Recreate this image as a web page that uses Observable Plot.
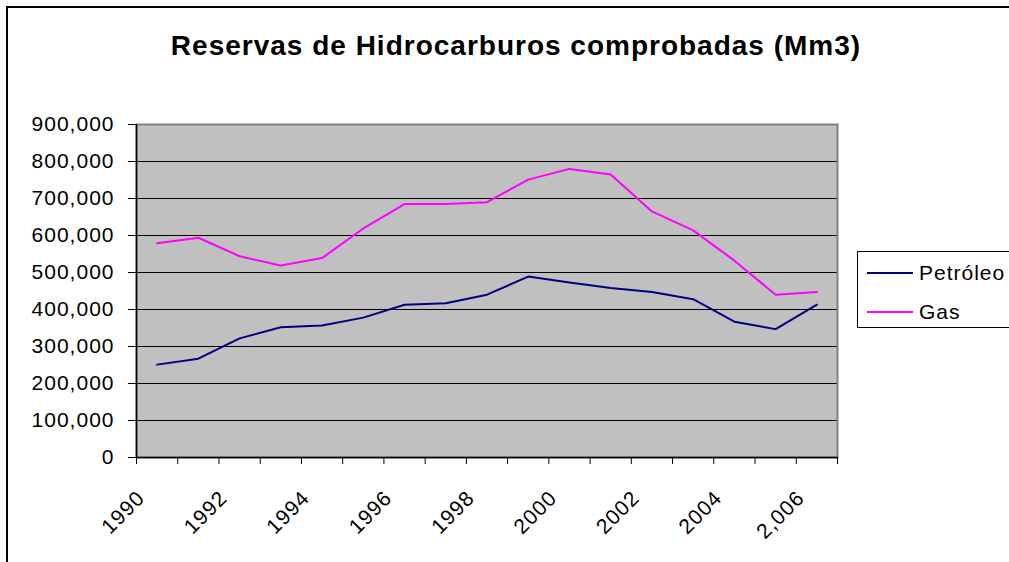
<!DOCTYPE html>
<html>
<head>
<meta charset="utf-8">
<script src="https://cdn.jsdelivr.net/npm/d3@7"></script>
<script src="https://cdn.jsdelivr.net/npm/@observablehq/plot@0.6"></script>
<style>
  html, body { margin: 0; padding: 0; overflow: hidden; background: #fff; }
  #wrap { position: relative; width: 1009px; height: 562px; overflow: hidden; font-family: "Liberation Sans", Arial, sans-serif; }
  #outer { position: absolute; left: 6px; top: 6px; width: 1100px; height: 700px; border: 2px solid #000; box-sizing: border-box; }
  #chart { position: absolute; left: 0; top: 0; }
  #chart svg text { letter-spacing: 1px; }
  #title { position: absolute; left: 16px; top: 32px; width: 1000px; text-align: center; font-weight: bold; font-size: 28px; line-height: 28px; letter-spacing: 1px; color: #000; }
  #legend { position: absolute; left: 857px; top: 251px; width: 200px; height: 77px; border: 1px solid #000; box-sizing: border-box; background: #fff; }
  .li { position: absolute; left: 0; height: 24px; font-size: 21px; line-height: 24px; letter-spacing: 1px; }
  .sw { position: absolute; left: 9px; width: 46px; height: 2px; top: 11px; }
  .lt { position: absolute; left: 61px; top: 0; white-space: nowrap; }
</style>
</head>
<body>
<div id="wrap">
  <div id="outer"></div>
  <div id="chart"></div>
  <div id="title">Reservas de Hidrocarburos comprobadas (Mm3)</div>
  <div id="legend"></div>
</div>
<script>
const years = [1990, 1991, 1992, 1993, 1994, 1995, 1996, 1997, 1998, 1999, 2000, 2001, 2002, 2003, 2004, 2005, 2006];
const petroleo = [251000, 267000, 322000, 352000, 357000, 378000, 413000, 417000, 440000, 489000, 473000, 458000, 447000, 428000, 367000, 347000, 413000];
const gas = [579000, 594000, 544000, 519000, 539000, 619000, 685000, 685000, 690000, 751000, 780000, 765000, 665000, 614000, 532000, 440000, 447000];
const seriesNames = ["Petróleo", "Gas"];
const seriesColors = ["#000080", "#FF00FF"];
const xTickYears = [1990, 1992, 1994, 1996, 1998, 2000, 2002, 2004, 2006];
const xTickLabels = ["1990", "1992", "1994", "1996", "1998", "2000", "2002", "2004", "2,006"];
const yTicks = [0, 100000, 200000, 300000, 400000, 500000, 600000, 700000, 800000, 900000];

const boundaries = years.map(y => y - 0.5).concat([years[years.length - 1] + 0.5]);
const fmt = d3.format(",");

const chart = Plot.plot({
  width: 1009,
  height: 562,
  marginLeft: 136,
  marginRight: 172,
  marginTop: 124,
  marginBottom: 105,
  style: { background: "transparent", fontFamily: "'Liberation Sans', Arial, sans-serif", fontSize: "21px", overflow: "visible" },
  x: { domain: [boundaries[0], boundaries[boundaries.length - 1]] },
  y: { domain: [0, 900000] },
  marks: [
    Plot.frame({ fill: "#C0C0C0" }),
    Plot.gridY(yTicks, { stroke: "#000", strokeOpacity: 1, strokeWidth: 1 }),
    Plot.frame({ stroke: "#808080", strokeWidth: 2 }),
    Plot.ruleX([boundaries[0]], { stroke: "#000", strokeWidth: 1.5 }),
    Plot.ruleY([0], { stroke: "#000", strokeWidth: 1.5 }),
    Plot.axisY(yTicks, { tickSize: 8, tickPadding: 14, tickFormat: d => fmt(d), fontSize: 21, label: null, stroke: "#000" }),
    Plot.axisX(boundaries, { tickSize: 7, tickFormat: () => "", label: null, stroke: "#000" }),
    Plot.text(xTickLabels, {
      x: (d, i) => xTickYears[i],
      y: () => 0,
      text: d => d,
      rotate: -45,
      textAnchor: "end",
      dx: -16,
      dy: 37,
      fontSize: 21,
      fill: "#000"
    }),
    Plot.line(years, { x: d => d, y: (d, i) => petroleo[i], stroke: seriesColors[0], strokeWidth: 2 }),
    Plot.line(years, { x: d => d, y: (d, i) => gas[i], stroke: seriesColors[1], strokeWidth: 2 })
  ]
});
document.getElementById("chart").appendChild(chart);

const legend = document.getElementById("legend");
const tops = [9, 48];
seriesNames.forEach((name, i) => {
  const item = document.createElement("div");
  item.className = "li";
  item.style.top = tops[i] + "px";
  item.innerHTML = `<div class="sw" style="background:${seriesColors[i]}"></div><div class="lt">${name}</div>`;
  legend.appendChild(item);
});
</script>
</body>
</html>
